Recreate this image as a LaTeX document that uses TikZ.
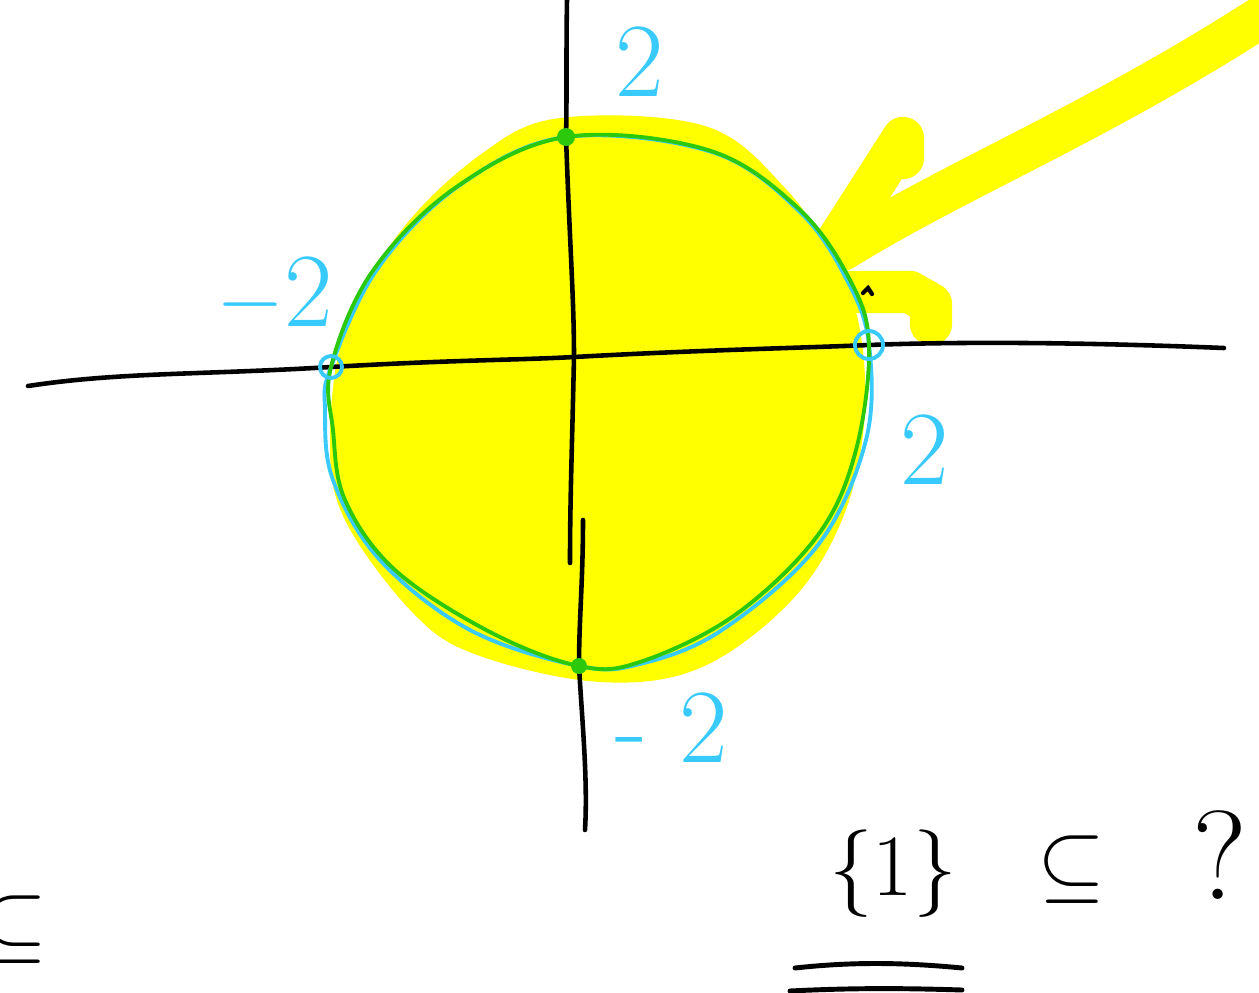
\documentclass[tikz,border=0pt]{standalone}
\usepackage{amsmath,amssymb}
\usepackage{xcolor}
\usepackage{tikz}
\usetikzlibrary{positioning,calc}
\definecolor{hiyellow}{RGB}{255,255,0}
\definecolor{penblue}{RGB}{56,202,252}
\definecolor{pengreen}{RGB}{44,200,12}
\tikzset{
  hl/.style={line width=12pt, draw=hiyellow, line cap=round, line join=round},
  axisline/.style={line width=1.3pt, draw=black, line cap=round},
  ring/.style={line width=1.1pt, line cap=round},
  lbl/.style={text=penblue, font=\fontsize{30}{32}\selectfont},
  hand/.style={text=black, font=\fontsize{36}{40}\selectfont, inner sep=0pt},
  uline/.style={line width=1.4pt, line cap=round},
}

\begin{document}
\begin{tikzpicture}[x=0.01cm, y=-0.01cm]
    \useasboundingbox (0,0) rectangle (1259,993);
    % highlighted region
    \fill[hiyellow] plot[smooth cycle, tension=0.6] coordinates {
      (560,118) (705,126) (785,188) (835,262) (860,330) (864,425) (842,520)
      (790,602) (700,668) (600,682) (480,656) (415,615) (345,520) (330,440)
      (345,330) (400,232) (480,155)};
    \draw[hl] (1272,10) .. controls (1100,122) and (960,177) .. (842,250);
    \draw[hl] (830,252) -- (903,138) -- (903,158);
    \draw[hl] (850,292) -- (910,292) -- (931,304) -- (931,324);
    % axes
    \coordinate (top) at (567,0);
    \coordinate (north) at (566,137);
    \coordinate (origin) at (574,357);
    \coordinate (south) at (579,666);
    \coordinate (bot) at (585,830);
    \coordinate (west) at (331,367);
    \coordinate (east) at (869,345);
    \draw[axisline] (28,386) .. controls (120,372) and (200,375) .. (west)
      .. controls (450,360) and (520,360) .. (origin)
      .. controls (700,350) and (800,348) .. (east)
      .. controls (1000,340) and (1150,345) .. (1224,348);
    \draw[axisline] (top) .. controls (566,60) and (567,100) .. (north)
      .. controls (570,250) and (574,300) .. (origin)
      .. controls (572,450) and (570,500) .. (570,563);
    \draw[axisline] (583,520) .. controls (583,580) and (579,620) .. (south)
      .. controls (582,720) and (588,780) .. (bot);
    % circle, twice
    \draw[ring, penblue] plot[smooth cycle, tension=0.6] coordinates {
      (north) (712,152) (800,212) (848,282) (east) (866,440) (818,545)
      (722,630) (640,664) (south) (470,630) (380,560) (333,480) (325,410)
      (west) (378,268) (460,185)};
    \draw[ring, pengreen] plot[smooth cycle, tension=0.6] coordinates {
      (north) (708,150) (798,208) (850,280) (east) (856,450) (818,535)
      (735,615) (640,662) (south) (490,632) (395,570) (345,500) (333,430)
      (west) (372,272) (455,188)};
    \draw[ring, penblue] (east) circle (14);
    \draw[ring, penblue] (west) circle (11);
    \fill[pengreen] (north) circle (9);
    \fill[pengreen] (south) circle (8);
    \draw[line width=1.2pt, line cap=round] (863,293) -- (868,288) -- (872,294);
    % labels
    \node[lbl] (ltop) at (640,62) {2};
    \node[lbl] (lwest) at (275,295) {$-$2};
    \node[lbl] (least) at (925,450) {2};
    \node[lbl] (lsouth) at (672,728) {- 2};
    % question below
    \node[hand] (set) at (893,874) {$\{1\}$};
    \node[hand] (sub) at (1072,870) {$\subseteq$};
    \node[hand] (qm) at (1220,855) {?};
    \node[hand] (cut) at (14,930) {$\subseteq$};
    \draw[uline] (795,968) .. controls (850,962) and (900,962) .. (962,968);
    \draw[uline] (790,991) .. controls (850,988) and (900,988) .. (962,990);
\end{tikzpicture}
\end{document}
